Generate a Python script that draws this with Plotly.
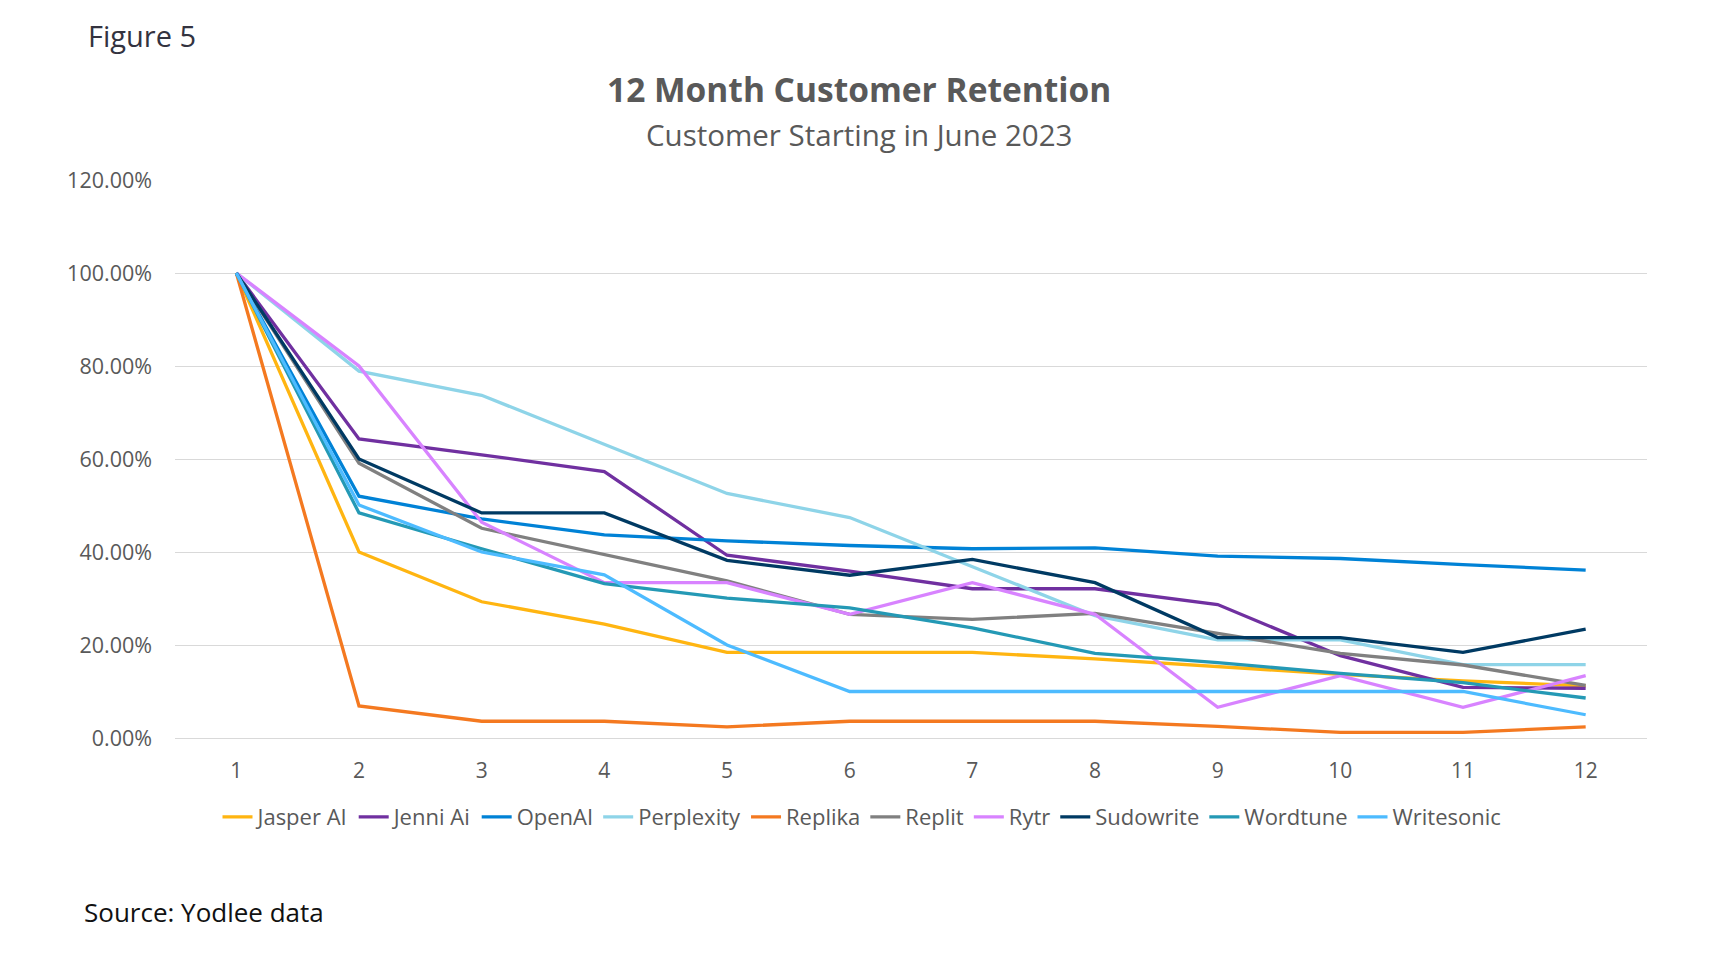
import plotly.graph_objects as go

months = list(range(1, 13))

jasper_ai = [1.00, 0.40, 0.293, 0.245, 0.184, 0.184, 0.184, 0.170, 0.154, 0.137, 0.123, 0.112]
jenni_ai = [1.00, 0.643, 0.609, 0.573, 0.393, 0.359, 0.321, 0.321, 0.287, 0.177, 0.109, 0.107]
openai = [1.00, 0.520, 0.471, 0.437, 0.424, 0.414, 0.407, 0.409, 0.391, 0.386, 0.373, 0.361]
perplexity = [1.00, 0.789, 0.737, 0.632, 0.526, 0.474, 0.368, 0.263, 0.211, 0.211, 0.158, 0.158]
replika = [1.00, 0.069, 0.036, 0.036, 0.024, 0.036, 0.036, 0.036, 0.025, 0.012, 0.012, 0.024]
replit = [1.00, 0.591, 0.451, 0.394, 0.338, 0.266, 0.255, 0.268, 0.225, 0.182, 0.157, 0.113]
rytr = [1.00, 0.80, 0.464, 0.334, 0.334, 0.266, 0.334, 0.266, 0.066, 0.134, 0.066, 0.134]
sudowrite = [1.00, 0.60, 0.484, 0.484, 0.382, 0.350, 0.384, 0.334, 0.216, 0.216, 0.184, 0.234]
wordtune = [1.00, 0.484, 0.407, 0.332, 0.301, 0.280, 0.237, 0.182, 0.162, 0.139, 0.119, 0.086]
writesonic = [1.00, 0.501, 0.400, 0.351, 0.200, 0.100, 0.100, 0.100, 0.100, 0.100, 0.100, 0.050]

series_names = ["Jasper AI", "Jenni Ai", "OpenAI", "Perplexity", "Replika",
                "Replit", "Rytr", "Sudowrite", "Wordtune", "Writesonic"]
series_values = [jasper_ai, jenni_ai, openai, perplexity, replika,
                 replit, rytr, sudowrite, wordtune, writesonic]
series_colors = ["#FFB511", "#7030A0", "#0082D6", "#8ED4E8", "#F47920",
                 "#808080", "#D883FF", "#003A63", "#2499B5", "#4DBBFF"]

FONT = "Open Sans"

# page offset of the figure (browser body margin)
OFF = 8
W, H = 1718 - OFF, 964 - OFF
PL, PR, PT, PB = 175 - OFF, 1647 - OFF, 180 - OFF, 740 - OFF
PW, PH = PR - PL, PB - PT


def px(xp):
    return (xp - OFF - PL) / PW


def py(yp):
    return (PB - (yp - OFF)) / PH


fig = go.Figure()
for name, vals, col in zip(series_names, series_values, series_colors):
    fig.add_trace(go.Scatter(
        x=months, y=vals, name=name, mode="lines",
        line=dict(color=col, width=3.3),
    ))

fig.update_layout(
    width=W, height=H,
    margin=dict(l=PL, r=W - PR, t=PT, b=H - PB),
    paper_bgcolor="white", plot_bgcolor="white",
    font=dict(family=FONT, color="#595959", size=20),
    showlegend=True,
    legend=dict(
        orientation="h", xref="container", yref="container",
        x=(862 - OFF) / W, xanchor="center", y=1 - (817 - OFF) / H, yanchor="middle",
        font=dict(size=22, color="#595959"),
        itemwidth=30, tracegroupgap=0,
    ),
    xaxis=dict(
        tickmode="array", tickvals=months, ticktext=[str(m) for m in months],
        range=[0.5, 12.5], showgrid=False, zeroline=False, showline=False,
        ticks="", ticklabelstandoff=18, tickfont=dict(size=21, color="#595959"),
    ),
    yaxis=dict(
        range=[0, 1.2], dtick=0.2, tickformat=".2%",
        showgrid=True, gridcolor="#D9D9D9", gridwidth=1.2,
        zeroline=True, zerolinecolor="#D9D9D9", zerolinewidth=1.2,
        showline=False, ticks="", ticklabelstandoff=22,
        tickfont=dict(size=21.5, color="#595959"),
    ),
)

fig.add_annotation(text="Figure 5", xref="paper", yref="paper",
                   x=px(86), y=py(35),
                   xanchor="left", yanchor="middle", showarrow=False,
                   font=dict(family=FONT, size=29, color="#33333F"))
fig.add_annotation(text="<b>12 Month Customer Retention</b>", xref="paper", yref="paper",
                   x=px(859), y=py(89),
                   xanchor="center", yanchor="middle", showarrow=False,
                   font=dict(family=FONT, size=33.5, color="#595959"))
fig.add_annotation(text="Customer Starting in June 2023", xref="paper", yref="paper",
                   x=px(859), y=py(134),
                   xanchor="center", yanchor="middle", showarrow=False,
                   font=dict(family=FONT, size=29.5, color="#595959"))
fig.add_annotation(text="Source: Yodlee data", xref="paper", yref="paper",
                   x=px(82), y=py(915),
                   xanchor="left", yanchor="middle", showarrow=False,
                   font=dict(family=FONT, size=26, color="#111111"))

fig.write_html("out.html")
